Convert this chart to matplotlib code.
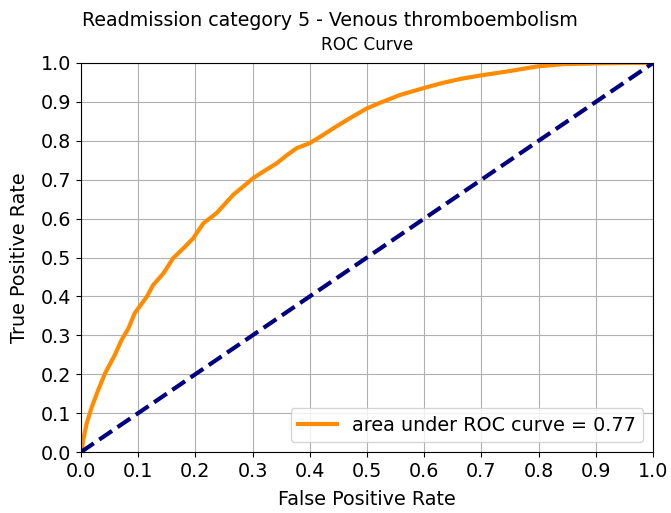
"""ROC curve for readmission category 5."""

import matplotlib

matplotlib.use("Agg")
import matplotlib.pyplot as plt

# values
fpr = [0.0, 0.002, 0.004, 0.010, 0.019, 0.030, 0.042, 0.059, 0.071, 0.083,
       0.094, 0.115, 0.126, 0.144, 0.161, 0.180, 0.196, 0.214, 0.237, 0.250,
       0.266, 0.285, 0.301, 0.320, 0.342, 0.360, 0.377, 0.400, 0.420, 0.441,
       0.470, 0.4995, 0.52, 0.558, 0.598, 0.630, 0.663, 0.703, 0.744, 0.797,
       0.843, 0.90, 0.95, 1.0]
tpr = [0.0, 0.012, 0.031, 0.074, 0.116, 0.159, 0.202, 0.249, 0.288, 0.318,
       0.357, 0.399, 0.429, 0.459, 0.498, 0.525, 0.549, 0.588, 0.614, 0.635,
       0.661, 0.684, 0.704, 0.722, 0.742, 0.763, 0.781, 0.794, 0.812, 0.832,
       0.858, 0.883, 0.896, 0.918, 0.935, 0.948, 0.959, 0.969, 0.978, 0.991,
       0.997, 0.999, 1.0, 1.0]
roc_auc = 0.77
ticks = [0.0, 0.1, 0.2, 0.3, 0.4, 0.5, 0.6, 0.7, 0.8, 0.9, 1.0]

fig = plt.figure(figsize=(6.71, 5.13), dpi=100)
ax = fig.add_axes([81 / 671, 1 - 452 / 513, 572 / 671, 389 / 513])
ax.plot(fpr, tpr, color="darkorange", lw=3,
        label=f"area under ROC curve = {roc_auc:.2f}")
ax.plot([0, 1], [0, 1], color="navy", lw=3, linestyle="--")
ax.set_xlim(0.0, 1.0)
ax.set_ylim(0.0, 1.0)
ax.set_xticks(ticks)
ax.set_yticks(ticks)
ax.tick_params(labelsize=13.8)
ax.grid(True)
ax.set_xlabel("False Positive Rate", fontsize=13.8, labelpad=6.5)
ax.set_ylabel("True Positive Rate", fontsize=13.8, labelpad=8.5)
ax.set_title("ROC Curve", fontsize=12.2, pad=9)
fig.suptitle("Readmission category 5 - Venous thromboembolism", fontsize=13.7,
             x=0.492, y=0.978)
ax.legend(loc="lower right", fontsize=13.8)
plt.savefig("out.png", dpi=100)
